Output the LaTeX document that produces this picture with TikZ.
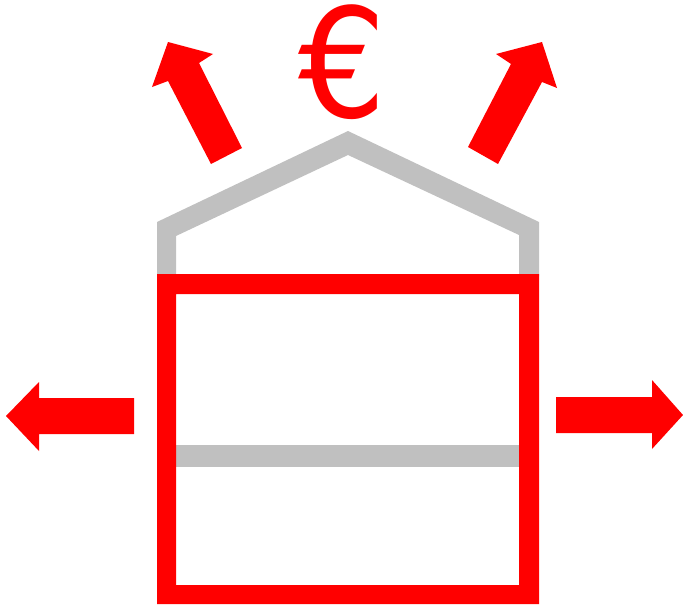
\documentclass[tikz,border=0pt]{standalone}
\usepackage{fontspec}
\setmainfont{DejaVu Sans}
\definecolor{hred}{RGB}{255,0,0}
\definecolor{hgray}{RGB}{192,192,192}
\tikzset{x=1pt,y=-1pt,
  grayshape/.style={fill=hgray,draw=none},
  redshape/.style={fill=hred,draw=none,even odd rule},
  arrowshape/.style={fill=hred,draw=none}}
\begin{document}
\begin{tikzpicture}
\useasboundingbox (0,0) rectangle (683,605);
% roof
\fill[grayshape] (157,276) -- (157,222) -- (348,131) -- (539,222) -- (539,276) -- (519,276) -- (519,235) -- (348,155) -- (176,236) -- (176,276) -- cycle;
% floor
\fill[grayshape] (176,445) rectangle (520,467);
% house
\fill[redshape] (157,274) rectangle (539,604) (176,294) rectangle (519,585);
% arrows
\fill[arrowshape] (134,398) -- (39,398) -- (39,382) -- (6,416) -- (39,451) -- (39,434) -- (134,434) -- cycle;
\fill[arrowshape] (556,397) -- (652,397) -- (652,380) -- (683,415) -- (652,449) -- (652,433) -- (556,433) -- cycle;
\fill[arrowshape] (242,148) -- (199,63) -- (213,54) -- (168,42) -- (152,87) -- (168,81) -- (211,164) -- cycle;
\fill[arrowshape] (468,147) -- (511,64) -- (496,54) -- (542,42) -- (557,88) -- (542,82) -- (498,164) -- cycle;
\node[text=hred,font=\fontsize{152}{152}\selectfont,inner sep=0pt,xscale=0.91] (euro) at (342.5,62.5) {€};
\end{tikzpicture}
\end{document}
